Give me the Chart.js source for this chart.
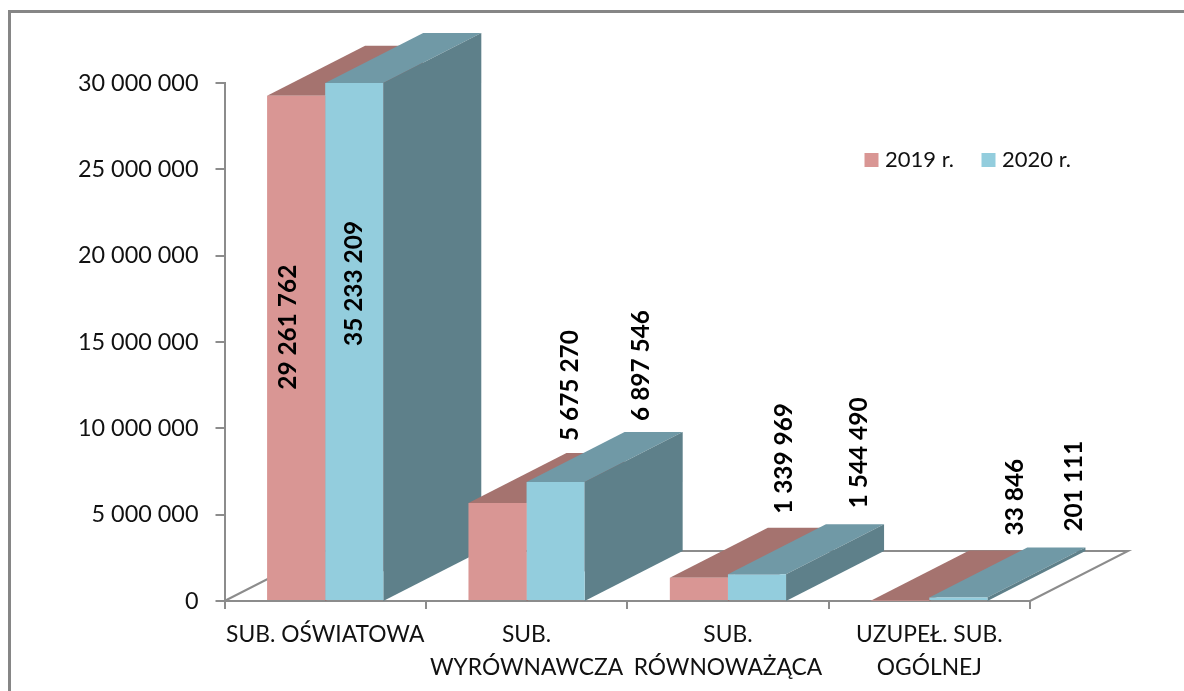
<!DOCTYPE html>
<html><head><meta charset="utf-8">
<style>html,body{margin:0;padding:0;background:#fff}canvas{display:block}</style>
<script src="https://cdn.jsdelivr.net/npm/chart.js@4"></script>
</head><body><canvas id="c" width="1184" height="691"></canvas>
<script>
const categories = [["SUB. OŚWIATOWA"],["SUB.","WYRÓWNAWCZA"],["SUB.","RÓWNOWAŻĄCA"],["UZUPEŁ. SUB.","OGÓLNEJ"]];
const seriesNames = ["2019 r.","2020 r."];
const values2019 = [29261762,5675270,1339969,33846];
const values2020 = [35233209,6897546,1544490,201111];
const axisMax = 30000000, axisStep = 5000000;

const FONT = "Lato, Carlito, sans-serif";
const DX = 98, DY = -50;
const faces = [{front:"#D99694",top:"#A5736F",side:"#9A6A67"},{front:"#93CDDD",top:"#7099A6",side:"#5E808A"}];
const AXIS = "#8C8C8C";
// label anchor = (bar centre x + dx, bar top y + dy): bottom end of the rotated text
const labelShift = [
  [[-8,294],[73,-62],[85,-64],[115,-65]],
  [[0,263],[86,-61],[102,-66],[116,-66]]
];
const fmt = n => String(n).replace(/\B(?=(\d{3})+$)/g," ");

const box3d = {
  id:"box3d",
  beforeLayout(chart){
    const l = chart.legend;
    if(l && !l._p){ const f = l.fit; l.fit = function(){ f.call(this); this.height = 0; }; l._p = true; }
  },
  afterLayout(chart){
    const l = chart.legend;
    l.left = 837; l.right = 1160; l.top = 117; l.bottom = 185; l.height = 68;
    l.adjustHitBoxes();
  },
  beforeDatasetsDraw(chart){
    const {ctx,chartArea:a} = chart;
    const p = (pts,col)=>{ctx.beginPath();pts.forEach((q,i)=>i?ctx.lineTo(q[0],q[1]):ctx.moveTo(q[0],q[1]));ctx.closePath();ctx.fillStyle=col;ctx.fill();};
    ctx.save();
    ctx.strokeStyle = AXIS; ctx.lineWidth = 2;
    ctx.beginPath();
    ctx.moveTo(a.left,a.bottom); ctx.lineTo(a.left+DX,a.bottom+DY);
    ctx.lineTo(a.right+DX,a.bottom+DY); ctx.lineTo(a.right,a.bottom);
    ctx.stroke();
    for(let i=0;i<categories.length;i++){
      for(let d=0;d<2;d++){
        const b = chart.getDatasetMeta(d).data[i];
        const L=b.x-b.width/2,R=b.x+b.width/2,T=Math.max(b.y,a.top),B=a.bottom;
        p([[L,T],[R,T],[R+DX,T+DY],[L+DX,T+DY]],faces[d].top);
        p([[R,T],[R+DX,T+DY],[R+DX,B+DY],[R,B]],faces[d].side);
      }
    }
    ctx.restore();
  },
  afterDatasetsDraw(chart){
    const {ctx} = chart;
    ctx.save();
    ctx.fillStyle="#000";ctx.font="bold 24.4px "+FONT;ctx.textAlign="left";ctx.textBaseline="middle";
    [values2019,values2020].forEach((vals,d)=>{
      const meta = chart.getDatasetMeta(d);
      vals.forEach((v,i)=>{
        const b = meta.data[i], s = labelShift[d][i];
        ctx.save();
        ctx.translate(b.x+s[0], Math.max(b.y,chart.chartArea.top)+s[1]);
        ctx.rotate(-Math.PI/2);
        ctx.fillText(fmt(v),0,0);
        ctx.restore();
      });
    });
    ctx.restore();
    ctx.save();ctx.strokeStyle="#868686";ctx.lineWidth=3;
    ctx.beginPath();ctx.moveTo(9.5,691);ctx.lineTo(9.5,11.5);ctx.lineTo(1184,11.5);ctx.stroke();ctx.restore();
  }
};

new Chart(document.getElementById("c"),{
  type:"bar",
  data:{labels:categories,datasets:[
    {label:seriesNames[0],data:values2019,backgroundColor:faces[0].front},
    {label:seriesNames[1],data:values2020,backgroundColor:faces[1].front}
  ]},
  plugins:[box3d],
  options:{
    responsive:false,animation:false,
    layout:{padding:{left:10,top:83,right:154,bottom:0}},
    datasets:{bar:{categoryPercentage:0.577,barPercentage:1}},
    plugins:{
      tooltip:{enabled:false},
      legend:{position:"top",align:"start",labels:{usePointStyle:true,pointStyle:"rect",boxWidth:5,boxHeight:14,padding:32,color:"#111",font:{family:FONT,size:22}}}
    },
    scales:{
      x:{
        afterFit(s){s.height=90;},
        grid:{drawOnChartArea:false,color:AXIS,tickLength:8,lineWidth:2},
        border:{color:AXIS,width:2},
        ticks:{maxRotation:0,autoSkip:false,color:"#111",padding:9,font:{family:FONT,size:22.8,lineHeight:1.45}}
      },
      y:{
        min:0,max:axisMax,
        afterFit(s){s.width=214.5;},
        grid:{drawOnChartArea:false,color:AXIS,tickLength:9,lineWidth:2},
        border:{color:AXIS,width:2},
        ticks:{stepSize:axisStep,padding:17,color:"#111",font:{family:FONT,size:23.4},callback:v=>fmt(v)}
      }
    }
  }
});
</script></body></html>
